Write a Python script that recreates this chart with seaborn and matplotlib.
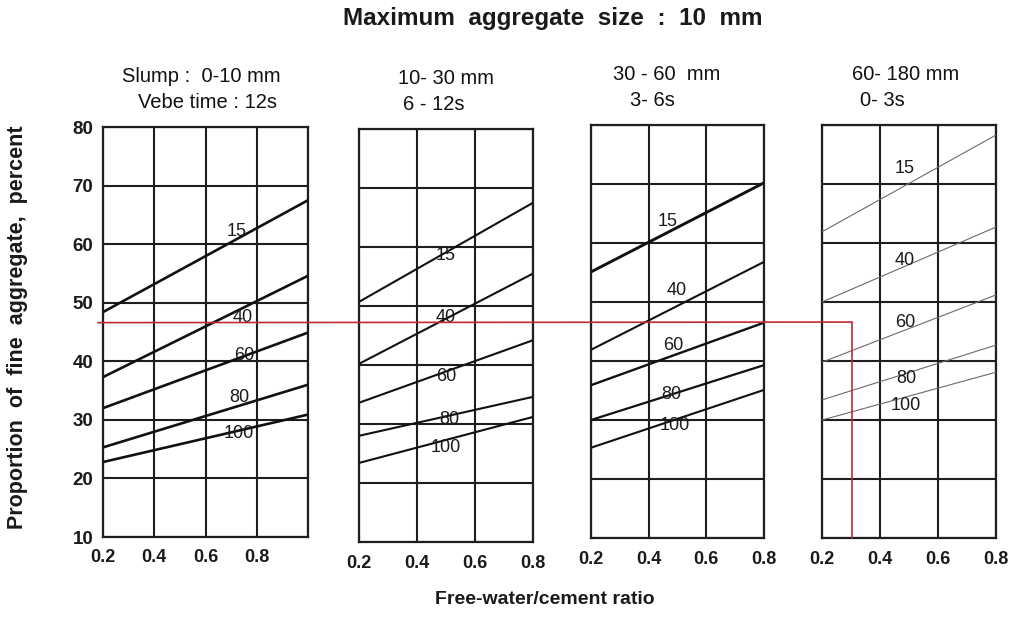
import numpy as np
import pandas as pd
import matplotlib
matplotlib.use("Agg")
import matplotlib.pyplot as plt
from matplotlib.patches import ConnectionPatch
import seaborn as sns

# ---- data -------------------------------------------------------------
curve_names = ["15", "40", "60", "80", "100"]   # % of fines passing 600 um sieve
wc_min = 0.2
wc_max = [1.0, 0.8, 0.8, 0.8]

# fine-aggregate proportion (%) at the low and high free-water/cement ratio
p1_low = [48.4, 37.3, 32.0, 25.3, 22.8]
p1_high = [67.5, 54.6, 44.9, 36.0, 30.9]
p2_low = [50.7, 40.2, 33.6, 28.0, 23.4]
p2_high = [67.5, 55.5, 44.2, 34.6, 31.2]
p3_low = [55.1, 41.9, 35.9, 30.0, 25.3]
p3_high = [70.2, 56.8, 46.5, 39.3, 35.1]
p4_low = [61.9, 50.0, 39.8, 33.4, 30.0]
p4_high = [78.3, 62.7, 51.2, 42.7, 38.1]

# curve label anchor points (w/c ratio, percent)
p1_lab_x = [0.72, 0.745, 0.75, 0.73, 0.73]
p1_lab_y = [62.1, 47.5, 41.0, 33.8, 27.6]
p2_lab_x = [0.50, 0.50, 0.50, 0.51, 0.50]
p2_lab_y = [58.5, 48.0, 38.1, 30.7, 26.1]
p3_lab_x = [0.467, 0.498, 0.484, 0.48, 0.49]
p3_lab_y = [63.7, 52.0, 42.7, 34.4, 29.0]
p4_lab_x = [0.486, 0.486, 0.486, 0.49, 0.49]
p4_lab_y = [72.7, 57.1, 46.6, 37.1, 32.4]

header_line1 = ["Slump :  0-10 mm", "10- 30 mm", "30 - 60  mm", "60- 180 mm"]
header_line2 = ["Vebe time : 12s", "6 - 12s", "3- 6s", "0- 3s"]

y_ticks = [10, 20, 30, 40, 50, 60, 70, 80]
x_ticks = [[0.2, 0.4, 0.6, 0.8, 1.0], [0.2, 0.4, 0.6, 0.8], [0.2, 0.4, 0.6, 0.8], [0.2, 0.4, 0.6, 0.8]]
x_tick_labels = [["0.2", "0.4", "0.6", "0.8", ""], ["0.2", "0.4", "0.6", "0.8"],
                 ["0.2", "0.4", "0.6", "0.8"], ["0.2", "0.4", "0.6", "0.8"]]

example_fine = 46.6
example_wc_start = 0.18
example_wc = 0.303

# ---- style ------------------------------------------------------------
sns.set_theme(style="white")
plt.rcParams["font.family"] = ["Liberation Sans", "DejaVu Sans"]

W, H = 1014, 635
fig = plt.figure(figsize=(W / 100, H / 100), dpi=100)

def frac(x0, y0, x1, y1):
    return [x0 / W, 1 - y1 / H, (x1 - x0) / W, (y1 - y0) / H]

boxes = [frac(103, 127, 308, 537), frac(359, 129, 533, 542),
         frac(591, 125, 764, 538), frac(822, 125, 996, 538)]

lows = [p1_low, p2_low, p3_low, p4_low]
highs = [p1_high, p2_high, p3_high, p4_high]
labs_x = [p1_lab_x, p2_lab_x, p3_lab_x, p4_lab_x]
labs_y = [p1_lab_y, p2_lab_y, p3_lab_y, p4_lab_y]

line_color = ["#111111", "#111111", "#111111", "#6a6a6a"]
line_width = [[1.9] * 5, [1.5] * 5, [2.1, 1.5, 1.7, 1.6, 1.5], [0.8] * 5]
grid_col = "#1e1e1e"

head_pos = [(201, 77, 207, 102, "center"), (398, 79, 403, 105, "left"),
            (613, 75, 630, 100, "left"), (852, 75, 860, 100, "left")]

axes = []
for i in range(4):
    ax = fig.add_axes(boxes[i])
    axes.append(ax)
    df = pd.DataFrame({
        "wc": [wc_min] * 5 + [wc_max[i]] * 5,
        "fine": lows[i] + highs[i],
        "curve": curve_names + curve_names,
    })
    for k, name in enumerate(curve_names):
        sns.lineplot(data=df[df["curve"] == name], x="wc", y="fine",
                     estimator=None, color=line_color[i],
                     linewidth=line_width[i][k], ax=ax, legend=False, zorder=3)
    for k, name in enumerate(curve_names):
        ax.text(labs_x[i][k], labs_y[i][k], name, ha="center", va="center",
                fontsize=13, color="#1a1a1a", zorder=4)

    ax.set_xlim(wc_min, wc_max[i])
    ax.set_ylim(10, 80)
    ax.set_xticks(x_ticks[i])
    ax.set_xticklabels(x_tick_labels[i], fontsize=13, fontweight="bold")
    ax.set_yticks(y_ticks)
    if i == 0:
        ax.set_yticklabels([str(v) for v in y_ticks], fontsize=13.5, fontweight="bold")
    else:
        ax.set_yticklabels([])
    ax.tick_params(length=0, pad=9, colors="#1a1a1a")
    ax.tick_params(axis="y", pad=7)
    ax.grid(True, color=grid_col, linewidth=1.5, zorder=1)
    for s in ax.spines.values():
        s.set_color(grid_col)
        s.set_linewidth(1.6)
    ax.set_xlabel("")
    ax.set_ylabel("")

    x1, y1, x2, y2, ha = head_pos[i]
    fig.text(x1 / W, 1 - y1 / H, header_line1[i], ha=ha, va="center",
             fontsize=14.5, color="#111111")
    fig.text(x2 / W, 1 - y2 / H, header_line2[i], ha=ha if i else "center",
             va="center", fontsize=14.5, color="#111111")

# worked example path in red, crossing all four panels
red = "#c22a36"
con = ConnectionPatch(xyA=(example_wc_start, example_fine), coordsA=axes[0].transData,
                      xyB=(example_wc, example_fine), coordsB=axes[3].transData,
                      color=red, linewidth=1.2, zorder=6)
fig.add_artist(con)
axes[3].plot([example_wc, example_wc], [example_fine, 10], color=red,
             linewidth=1.2, zorder=6, clip_on=False)

fig.text(553 / W, 1 - 19 / H, "Maximum  aggregate  size  :  10  mm", ha="center",
         va="center", fontsize=17.5, fontweight="bold", color="#1a1a1a")
fig.text(545 / W, 1 - 600 / H, "Free-water/cement ratio", ha="center", va="center",
         fontsize=14, fontweight="bold", color="#1a1a1a")
fig.text(18 / W, 1 - 327 / H, "Proportion  of  fine  aggregate,  percent", ha="center",
         va="center", rotation=90, fontsize=15.5, fontweight="bold", color="#1a1a1a")

fig.savefig("out.png", dpi=100, facecolor="white")
